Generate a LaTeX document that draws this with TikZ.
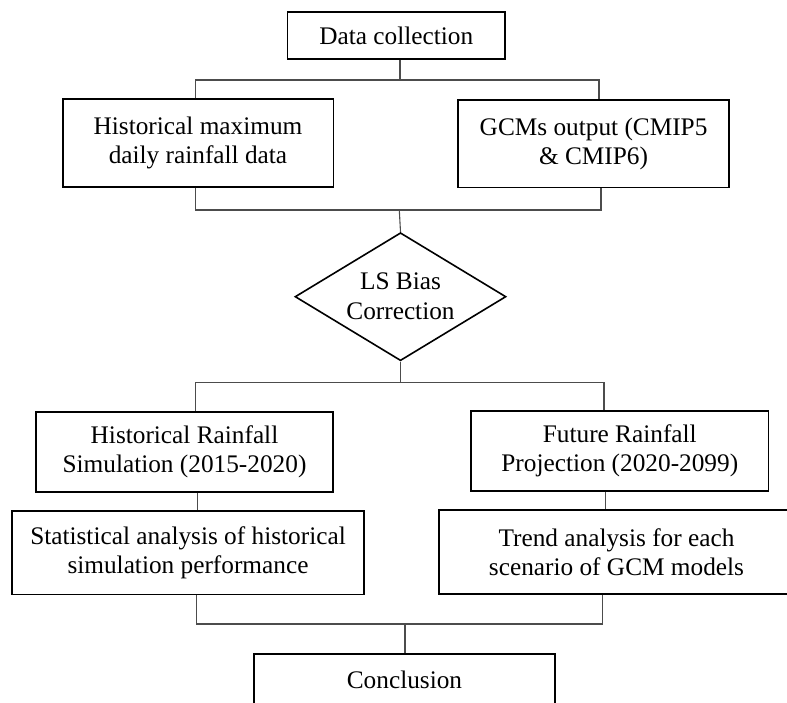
\documentclass[tikz,border=0pt]{standalone}
\usepackage{fontspec}
\setmainfont{Liberation Serif}
\usetikzlibrary{shapes.geometric}
\begin{document}
\begin{tikzpicture}[x=1pt,y=-1pt,
  every node/.style={font=\fontsize{25.3}{29.5}\selectfont},
  boxnode/.style={draw=black, line width=1.6pt, inner sep=0pt, align=center},
  conn/.style={draw=black!70, line width=1.1pt},
  decnode/.style={diamond, draw=black, line width=1.6pt, inner sep=0pt}]
\useasboundingbox (0,0) rectangle (787,703);

% nodes
\node[boxnode, minimum width=217.7pt, minimum height=47pt] (dc) at (396.2,35.8) {Data collection};
\node[boxnode, minimum width=270.6pt, minimum height=87.7pt] (hm) at (198,142.9) {Historical maximum\\daily rainfall data};
\node[boxnode, minimum width=270.7pt, minimum height=87.7pt] (gcm) at (593.6,143.8) {GCMs output (CMIP5\\\& CMIP6)};
\node[decnode, minimum width=211pt, minimum height=128pt] (ls) at (400.5,296.7) {};
\node[align=center, inner sep=0pt] (lstext) at (400.5,296) {LS Bias\\Correction};
\node[boxnode, minimum width=297pt, minimum height=80pt] (hr) at (184.5,452) {Historical Rainfall\\Simulation (2015-2020)};
\node[boxnode, minimum width=297.7pt, minimum height=79.7pt] (fr) at (619.8,450.9) {Future Rainfall\\Projection (2020-2099)};
\node[boxnode, minimum width=352pt, minimum height=83.3pt] (sa) at (188,552.7) {Statistical analysis of historical\\simulation performance};
\node[boxnode, minimum width=355pt, minimum height=84pt] (ta) at (616.5,552) {Trend analysis for each\\scenario of GCM models};
\node[boxnode, minimum width=301pt, minimum height=52pt] (conc) at (404.5,680) {Conclusion};

% junction coordinates
\coordinate (j1) at (400,80);
\coordinate (j1l) at (195.7,80);
\coordinate (j1r) at (599,80);
\coordinate (j2) at (399.3,210);
\coordinate (j2l) at (195.7,210);
\coordinate (j2r) at (601,210);
\coordinate (j3) at (400.5,382.7);
\coordinate (j3l) at (195.7,382.7);
\coordinate (j3r) at (604,382.7);
\coordinate (j4l) at (197.2,594);
\coordinate (j4r) at (605.7,594);
\coordinate (j5) at (405,624);
\coordinate (j5l) at (196.7,624);
\coordinate (j5r) at (602.5,624);

% connectors
\draw[conn] (j1 |- dc.south) -- (j1);
\draw[conn] (j1l |- hm.north) -- (j1l) -- (j1r) -- (j1r |- gcm.north);
\draw[conn] (j2l |- hm.south) -- (j2l) -- (j2r) -- (j2r |- gcm.south);
\draw[conn] (j2) -- (ls.north);
\draw[conn] (ls.south) -- (j3);
\draw[conn] (j3l |- hr.north) -- (j3l) -- (j3r) -- (j3r |- fr.north);
\draw[conn] (j4l |- hr.south) -- (j4l |- sa.north);
\draw[conn] (j4r |- fr.south) -- (j4r |- ta.north);
\draw[conn] (j5l |- sa.south) -- (j5l) -- (j5r) -- (j5r |- ta.south);
\draw[conn] (j5) -- (j5 |- conc.north);
\end{tikzpicture}
\end{document}
